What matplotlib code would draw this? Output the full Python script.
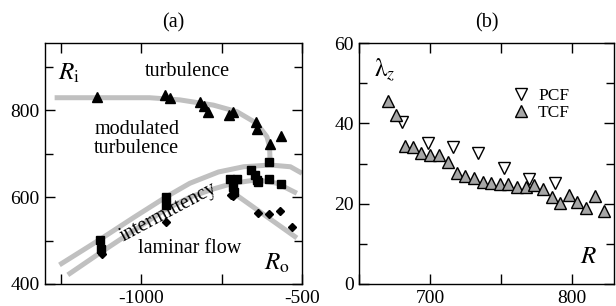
import matplotlib
matplotlib.use('Agg')
import matplotlib.pyplot as plt

plt.rcParams['font.family'] = 'serif'
plt.rcParams['font.serif'] = ['Liberation Serif', 'DejaVu Serif']
plt.rcParams['mathtext.fontset'] = 'stix'
plt.rcParams['axes.unicode_minus'] = False

# ---- panel (a): regime diagram (Ro, Ri) ----
tri_ro = [-1137, -925, -912, -816, -805, -792, -726, -716, -643, -639, -601, -565]
tri_ri = [830, 835, 828, 820, 810, 797, 790, 797, 772, 756, 722, 741]

sq_ro = [-1128, -1126, -924, -924, -724, -703, -716, -713, -659, -646, -640, -636, -602, -602, -566]
sq_ri = [502, 480, 600, 582, 641, 641, 623, 613, 663, 651, 640, 634, 680, 641, 630]

dia_ro = [-1123, -924, -722, -714, -636, -602, -568, -531]
dia_ri = [470, 542, 605, 603, 563, 562, 568, 532]

# gray boundary curves
turb_ro = [-1270, -975, -880, -776, -703, -641, -609, -601, -599]
turb_ri = [829, 829, 824, 812, 797, 770, 739, 716, 676]

upper_ro = [-1255, -1130, -1020, -922, -849, -760, -682, -599, -536, -500]
upper_ri = [444, 502, 555, 601, 632, 658, 670, 674, 670, 655]

lower_ro = [-1229, -1130, -1020, -922, -849, -780, -714, -641, -578, -516]
lower_ri = [421, 471, 525, 573, 600, 618, 632, 640, 632, 609]

lam_ro = [-714, -516]
lam_ri = [610, 506]

# ---- panel (b): wavelength vs R ----
tcf_r = [670.2, 675.6, 682.6, 688.2, 693.7, 700.0, 706.6, 712.9, 719.0, 724.9, 731.2,
         737.5, 743.4, 749.5, 755.4, 761.3, 767.6, 773.5, 779.8, 785.9, 791.8, 798.1,
         804.0, 810.4, 816.4, 822.8]
tcf_lz = [45.6, 42.1, 34.4, 34.2, 32.7, 32.1, 32.1, 30.3, 27.6, 27.0, 26.3,
          25.5, 25.1, 24.9, 24.8, 24.2, 24.1, 24.6, 23.7, 21.7, 20.1, 22.2,
          20.3, 18.8, 22.0, 18.2]

pcf_r = [680.0, 698.3, 716.0, 734.0, 752.0, 770.0, 788.5]
pcf_lz = [40.4, 35.0, 34.1, 32.5, 28.8, 26.1, 25.2]

fig = plt.figure(figsize=(6.16, 3.06), dpi=100)
ax1 = fig.add_axes([45 / 616, 1 - 284 / 306, 257 / 616, 241 / 306])
ax2 = fig.add_axes([359.3 / 616, 1 - 284 / 306, 254.7 / 616, 241 / 306])

gray = '#c0c0c0'
for xs, ys in [(turb_ro, turb_ri), (upper_ro, upper_ri), (lower_ro, lower_ri), (lam_ro, lam_ri)]:
    ax1.plot(xs, ys, color=gray, lw=3.6, solid_capstyle='butt', zorder=1)

ax1.plot(tri_ro, tri_ri, '^', color='black', ms=7.5, ls='none', zorder=3)
ax1.plot(sq_ro, sq_ri, 's', color='black', ms=5.5, ls='none', zorder=3)
ax1.plot(dia_ro, dia_ri, 'D', color='black', ms=4.5, ls='none', zorder=3)

ax1.set_xlim(-1300, -500)
ax1.set_ylim(400, 955)
ax1.set_xticks([-1250, -1000, -750, -500])
ax1.set_xticklabels(['', '-1000', '', '-500'])
ax1.set_yticks([400, 600, 800])
ax1.set_yticks([500, 700, 900], minor=True)

ax1.text(-1224, 886, r'$R_\mathrm{i}$', fontsize=18, ha='center', va='center')
ax1.text(-856, 889, 'turbulence', fontsize=14.5, ha='center', va='center')
ax1.text(-1014, 733, 'modulated\nturbulence', fontsize=14.5, ha='center', va='center',
         linespacing=1.0)
ax1.text(-917, 565, 'intermittency', fontsize=14.5, ha='center', va='center', rotation=28)
ax1.text(-849, 481, 'laminar flow', fontsize=14.5, ha='center', va='center')
ax1.text(-578, 448, r'$R_\mathrm{o}$', fontsize=18, ha='center', va='center')
ax1.set_title('(a)', fontsize=14.5, pad=11)

ax2.plot(pcf_r, pcf_lz, 'v', mfc='white', mec='black', mew=1.0, ms=8.5, ls='none', label='PCF')
ax2.plot(tcf_r, tcf_lz, '^', mfc='#a6a6a6', mec='black', mew=1.0, ms=8.5, ls='none', label='TCF')
ax2.set_xlim(650, 830)
ax2.set_ylim(0, 60)
ax2.set_xticks([650, 700, 750, 800])
ax2.set_xticklabels(['', '700', '', '800'])
ax2.set_yticks([0, 20, 40, 60])
ax2.set_yticks([10, 30, 50], minor=True)
ax2.text(667.8, 53.3, r'$\mathrm{\lambda}_z$', fontsize=18, ha='center', va='center')
ax2.text(812, 6.6, r'$R$', fontsize=18, ha='center', va='center')
ax2.legend(loc='upper left', bbox_to_anchor=(0.6, 0.815), frameon=False, fontsize=12.5,
           handlelength=1.0, handletextpad=0.5, labelspacing=0.05, borderaxespad=0,
           borderpad=0)
ax2.set_title('(b)', fontsize=14.5, pad=11)

for ax in (ax1, ax2):
    ax.tick_params(which='both', direction='in', top=True, right=True, labelsize=14, width=1)
    ax.tick_params(which='major', length=7, pad=4)
    ax.tick_params(which='minor', length=6)
    for s in ax.spines.values():
        s.set_linewidth(1.0)

fig.savefig('out.png', dpi=100)
